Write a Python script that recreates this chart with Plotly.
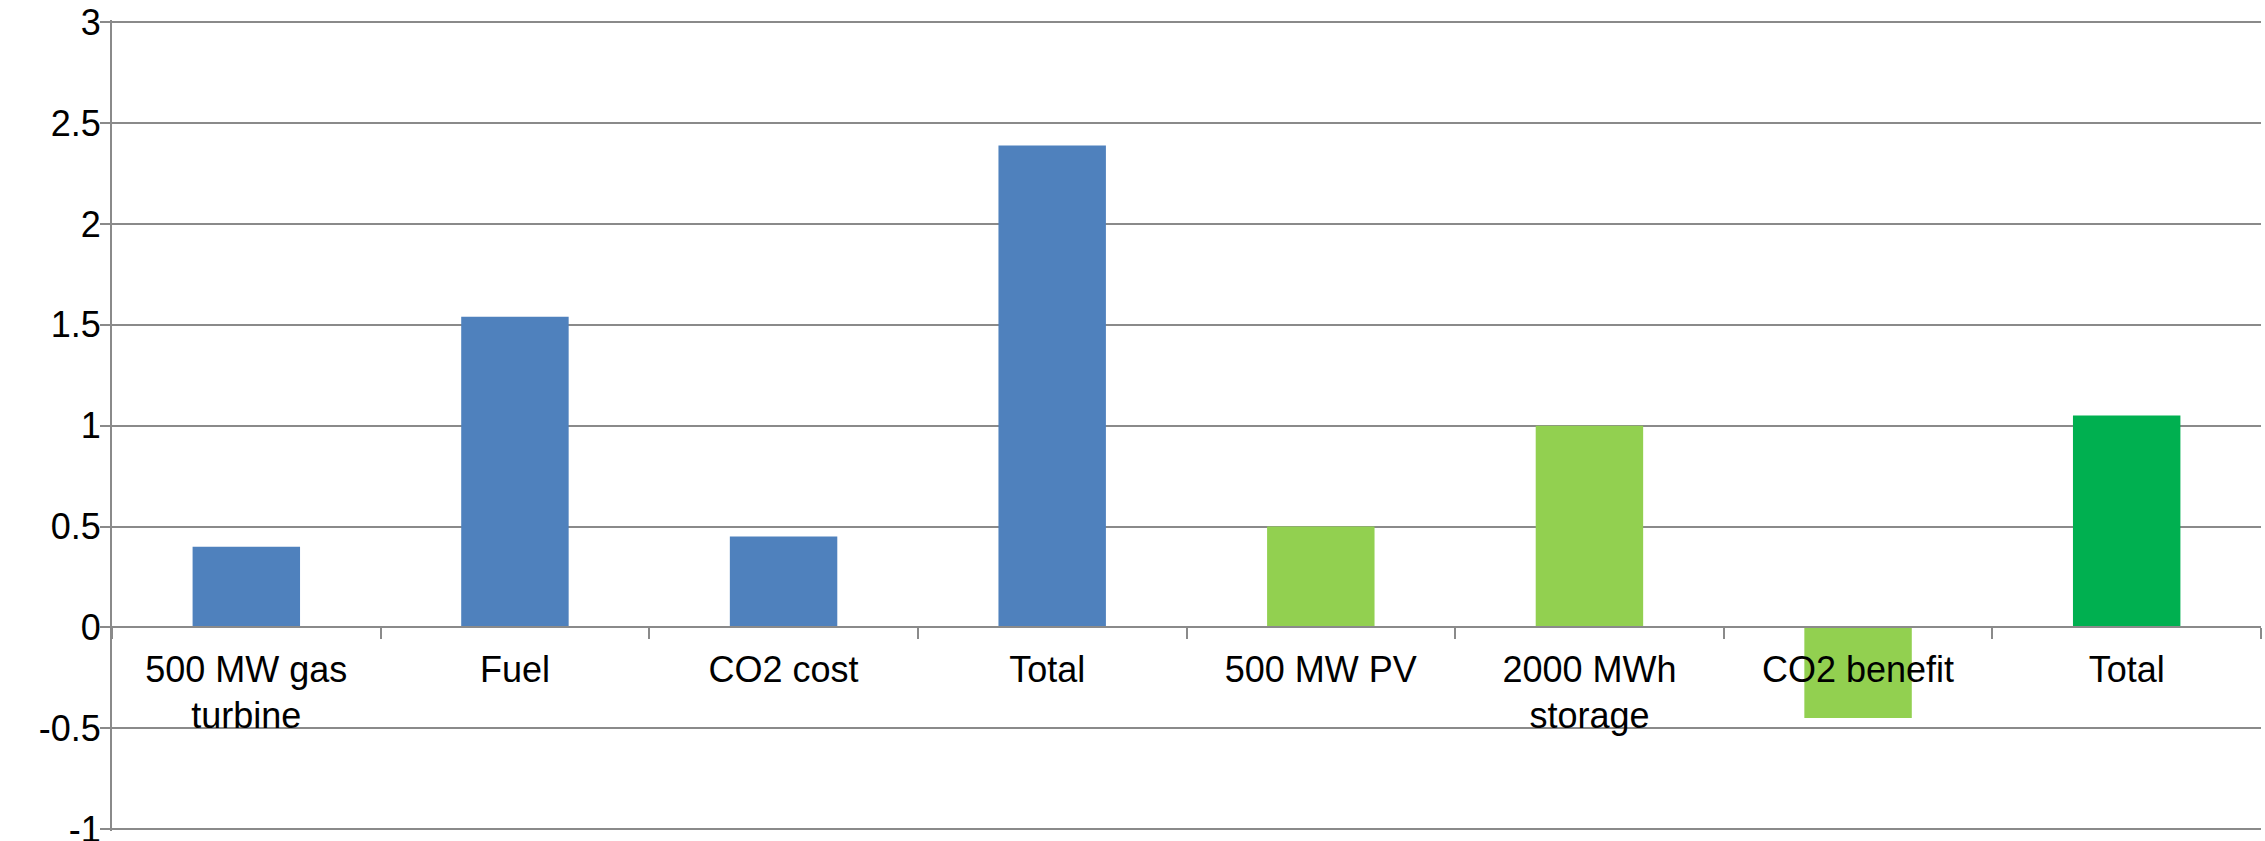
import plotly.graph_objects as go

# Cost comparison: gas turbine option vs. PV + storage option
categories = [
    "500 MW gas<br>turbine",
    "Fuel",
    "CO2 cost",
    "Total ",
    "500 MW PV",
    "2000 MWh<br>storage",
    "CO2 benefit",
    "Total",
]
values = [0.40, 1.54, 0.45, 2.39, 0.50, 1.00, -0.45, 1.05]
bar_colors = [
    "#4F81BD", "#4F81BD", "#4F81BD", "#4F81BD",
    "#92D050", "#92D050", "#92D050", "#00B050",
]
y_ticks = [-1, -0.5, 0, 0.5, 1, 1.5, 2, 2.5, 3]

GRID = "#8A8A8A"
FONT = dict(family="Liberation Sans, Arial, sans-serif", size=36, color="#000000")

fig = go.Figure(
    go.Bar(
        x=categories,
        y=values,
        marker=dict(color=bar_colors, line=dict(width=0)),
        hoverinfo="skip",
    )
)

fig.update_layout(
    template="none",
    width=2265,
    height=841,
    margin=dict(l=112, r=4, t=20, b=10, autoexpand=False),
    paper_bgcolor="white",
    plot_bgcolor="white",
    bargap=0.6,
    showlegend=False,
    font=FONT,
)

# pad the range slightly so the -1 and 3 ticks and gridlines are kept
y_lo, y_hi = -1.01, 3.012
fig.update_yaxes(
    range=[y_lo, y_hi],
    domain=[0, 1],
    automargin=False,
    tickvals=y_ticks,
    ticktext=[f"{v:g}" for v in y_ticks],
    showgrid=True,
    gridcolor=GRID,
    gridwidth=2,
    zeroline=False,
    showline=True,
    linecolor=GRID,
    linewidth=2,
    ticks="outside",
    ticklen=10,
    tickwidth=2,
    tickcolor=GRID,
    ticklabelstandoff=-8,
    ticklabeloverflow="allow",
    tickfont=FONT,
)

# Category axis drawn across the value zero line
fig.update_xaxes(
    type="category",
    range=[-0.5, len(categories) - 0.5],
    anchor="free",
    position=(0 - y_lo) / (y_hi - y_lo),
    automargin=False,
    showline=True,
    linecolor=GRID,
    linewidth=2,
    ticks="outside",
    tickson="boundaries",
    ticklen=11,
    tickwidth=2,
    tickcolor=GRID,
    showgrid=False,
    zeroline=False,
    tickfont=FONT,
    ticklabelstandoff=10,
)

fig.write_html("out.html", config={"displayModeBar": False})
